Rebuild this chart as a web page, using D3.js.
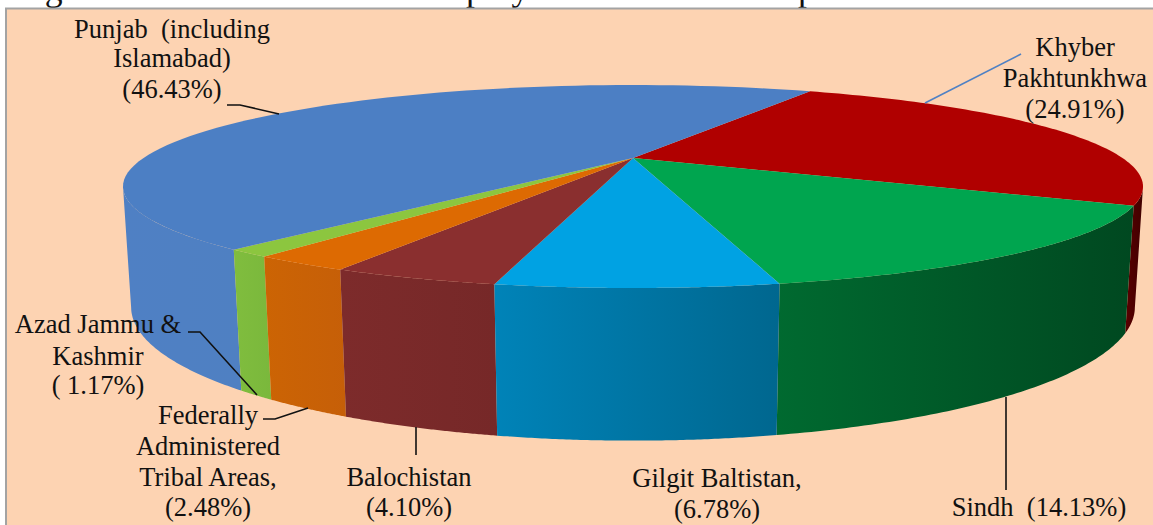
<!DOCTYPE html>
<html>
<head>
<meta charset="utf-8">
<script src="https://cdn.jsdelivr.net/npm/d3@7"></script>
<style>
html,body{margin:0;padding:0;background:#fff;overflow:hidden}
text{font-family:"Liberation Serif",serif;fill:#111}
</style>
</head>
<body>
<svg id="c" width="1153" height="525"></svg>
<script>
const titleText = "Figure No.1: Province wise Employees in Attached Departments.";
const regions = ["Khyber Pakhtunkhwa","Sindh","Gilgit Baltistan","Balochistan","Federally Administered Tribal Areas","Azad Jammu & Kashmir","Punjab (including Islamabad)"];
const shares = [24.91,14.13,6.78,4.10,2.48,1.17,46.43];
const topColors = ["#b00000","#00a54f","#00a2e3","#8a2f2f","#dd6a02","#8cc63f","#4c7fc4"];
const wallLeft = ["#5a0000","#006a30","#0083b8","#7d2b2b","#cc6404","#80bd3e","#4f80c4"];
const wallRight = ["#400000","#004820","#00678f","#762828","#c65f08","#7ab83c","#4f80c2"];

const svg = d3.select("#c");
const defs = svg.append("defs");

// projection parameters of the tilted disc
const cx = 633, cy = 158, A = 489.5, B = 93.5, k = 0.2808, depth = 114, dz = 0.015;
const rimTop = t => { const u = Math.sin(t), v = -Math.cos(t), w = 1 - k*v; return [cx + A*u/w, cy + B*v/w]; };
const rimBot = t => { const u = Math.sin(t), v = -Math.cos(t), w = 1 - k*v + dz; return [cx + A*u/w, cy + (B*v + depth)/w]; };

const startAngle = 26.9 * Math.PI/180;
const pie = d3.pie().sort(null).startAngle(startAngle).endAngle(startAngle + 2*Math.PI);
const arcs = pie(shares);
const line = d3.line();
const sample = (a,b) => d3.range(0, 81).map(i => a + (b-a)*i/80);

// only the front of the side wall can be seen
const visLo = Math.PI - Math.acos(k), visHi = Math.PI + Math.acos(k);

// panel
svg.append("text").attr("x",15).attr("y",0).attr("font-size",35.7).text(titleText);
svg.append("rect").attr("x",6).attr("y",8.5).attr("width",1160).attr("height",530)
  .attr("fill","#fdd3b2").attr("stroke","#a3a3a3").attr("stroke-width",2);

// walls
[0,6,1,5,4,3,2].forEach(i => {
  const d = arcs[i];
  const a = Math.max(d.startAngle,visLo), b = Math.min(d.endAngle,visHi);
  if (a >= b) return;
  const ts = sample(a,b);
  const pts = ts.map(rimTop).concat(ts.slice().reverse().map(rimBot));
  const xs = pts.map(p=>p[0]);
  const id = "wall"+i;
  const g = defs.append("linearGradient").attr("id",id).attr("gradientUnits","userSpaceOnUse")
    .attr("x1",d3.min(xs)).attr("x2",d3.max(xs)).attr("y1",0).attr("y2",0);
  g.append("stop").attr("offset",0).attr("stop-color",wallLeft[i]);
  g.append("stop").attr("offset",1).attr("stop-color",wallRight[i]);
  svg.append("path").attr("d",line(pts)+"Z").attr("fill",`url(#${id})`);
});

// top faces
arcs.forEach((d,i) => {
  const pts = [[cx,cy]].concat(sample(d.startAngle,d.endAngle).map(rimTop));
  svg.append("path").attr("d",line(pts)+"Z").attr("fill",topColors[i]);
});

// labels
const labelBlocks = [
  {lines:["Punjab  (including","Islamabad)","(46.43%)"],x:172,y:[38,67,98]},
  {lines:["Khyber","Pakhtunkhwa","(24.91%)"],x:1075,y:[56,87,118]},
  {lines:["Azad Jammu &","Kashmir","( 1.17%)"],x:98,y:[333,365,394]},
  {lines:["Federally","Administered","Tribal Areas,","(2.48%)"],x:208,y:[424,455,486,516]},
  {lines:["Balochistan","(4.10%)"],x:409,y:[486,516]},
  {lines:["Gilgit Baltistan,","(6.78%)"],x:717,y:[487,518]},
  {lines:["Sindh  (14.13%)"],x:1039,y:[516]}
];
labelBlocks.forEach(b => b.lines.forEach((t,j) => {
  svg.append("text").attr("x",b.x).attr("y",b.y[j]).attr("text-anchor","middle")
    .attr("font-size",26.5).style("white-space","pre").text(t);
}));

// leader lines
const leaders = [
  {p:[[227,105],[240,105],[279,114]],c:"#111"},
  {p:[[1021,54],[925,103]],c:"#4f81c4"},
  {p:[[188,332],[200,332],[257,395]],c:"#111"},
  {p:[[263,419],[275,419],[308,408]],c:"#111"},
  {p:[[416,427],[416,455]],c:"#111"},
  {p:[[1006,397],[1006,490]],c:"#111"}
];
leaders.forEach(l => svg.append("path").attr("d",line(l.p)).attr("fill","none").attr("stroke",l.c).attr("stroke-width",1.6));
</script>
</body>
</html>
